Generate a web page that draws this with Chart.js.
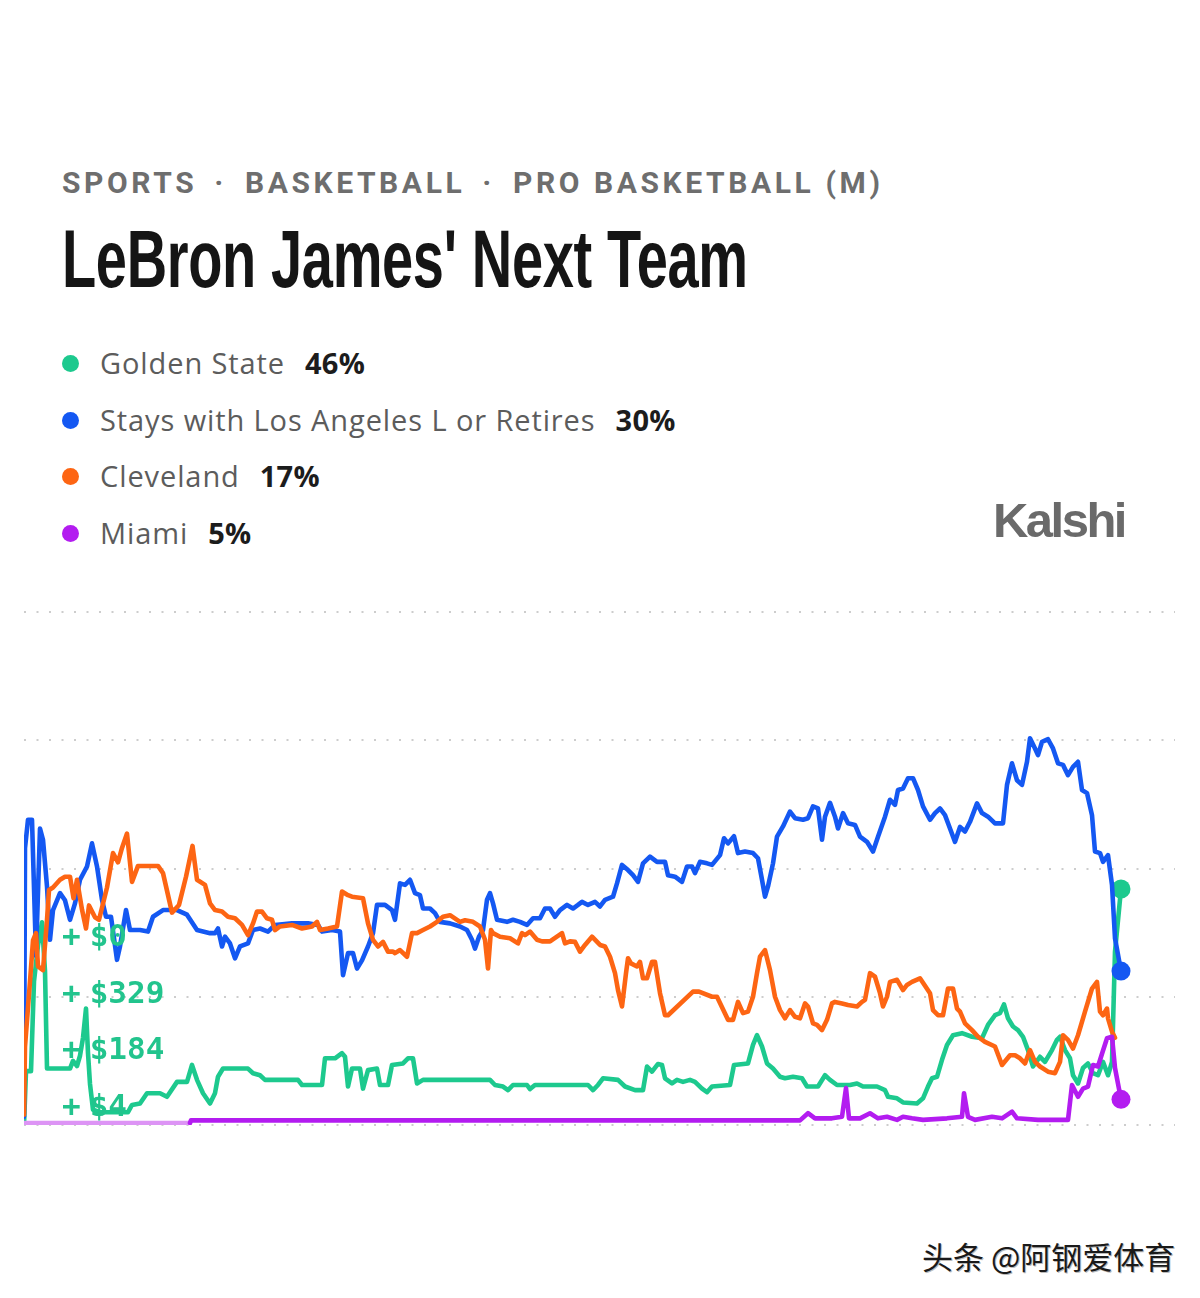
<!DOCTYPE html>
<html>
<head>
<meta charset="utf-8">
<script src="https://cdn.jsdelivr.net/npm/chart.js@4.4.1/dist/chart.umd.min.js"></script>
<style>
  body { margin: 0; background: #fff; width: 1200px; height: 1298px; position: relative; overflow: hidden; }
  .crumbs { position: absolute; left: 62px; top: 168px; font: 700 30px/1 "Roboto", sans-serif; letter-spacing: 3.6px; color: #6e6e6e; white-space: nowrap; }
  .crumbs .sep { margin: 0 18px 0 17px; }
  .title { position: absolute; left: 62px; top: 218px; font: 700 82px/1 "Liberation Sans Narrow", "Liberation Sans", sans-serif; color: #151515; white-space: nowrap; transform-origin: 0 0; letter-spacing: -0.5px; }
  .legend-row { position: absolute; left: 62px; height: 29px; display: flex; align-items: flex-start; white-space: nowrap; }
  .legend-row .dot { width: 17px; height: 17px; border-radius: 50%; margin-top: 7px; margin-right: 21px; }
  .legend-row .name { font: 400 29px/29px "Open Sans", sans-serif; letter-spacing: 0.9px; color: #5c5c5c; }
  .legend-row .pct { font: 700 29px/29px "Open Sans", sans-serif; letter-spacing: 0.3px; color: #1c1c1c; margin-left: 20px; }
  .brand { position: absolute; right: 75px; top: 496px; font: 700 49px/1 "Liberation Sans", sans-serif; letter-spacing: -2.5px; color: #6a6a6a; }
  .trade { position: absolute; left: 62px; font: 700 31px/1 "DejaVu Sans Mono", monospace; color: #22c48d; white-space: pre; }
  .trade .amt { margin-left: 9px; }
  .mark { position: absolute; left: 922px; top: 1240px; font: 400 31px/1 "Noto Sans CJK SC", sans-serif; color: #1a1a1a; text-shadow: 1px 1px 0 #bbb; white-space: nowrap; }
  #wrap { position: absolute; left: 0; top: 590px; width: 1200px; height: 560px; }
</style>
</head>
<body>
<div class="crumbs" id="crumbs"></div>
<div class="title" id="title"></div>
<div id="legend"></div>
<div class="brand">Kalshi</div>
<div id="wrap"><canvas id="chart"></canvas></div>
<div id="trades"></div>
<div class="mark">头条 @阿钢爱体育</div>

<script>
// Textes
const crumbs = ['SPORTS', 'BASKETBALL', 'PRO BASKETBALL (M)'];
const title = "LeBron James' Next Team";
const teams = ['Golden State', 'Stays with Los Angeles L or Retires', 'Cleveland', 'Miami'];
const odds = [46, 30, 17, 5];
const tradeAmounts = ['$0', '$329', '$184', '$4'];

// Séries : jour (depuis l'ouverture du marché) et probabilité (%)
const goldenDay = [0, 2, 7, 10, 14, 18, 21, 23, 31, 46, 49, 53, 56, 59, 62, 64, 66, 69, 76, 104, 108, 116, 123, 136, 143, 153, 163, 168, 173, 179, 186, 191, 194, 199, 224, 229, 236, 241, 274, 278, 298, 301, 311, 318, 321, 324, 328, 336, 339, 344, 353, 356, 364, 368, 379, 384, 389, 393, 399, 466, 471, 479, 484, 489, 503, 506, 511, 564, 569, 574, 579, 594, 601, 611, 619, 623, 628, 634, 638, 641, 648, 653, 659, 666, 671, 678, 683, 688, 706, 710, 724, 729, 733, 738, 743, 749, 756, 761, 769, 778, 783, 794, 801, 806, 813, 826, 833, 839, 853, 861, 864, 873, 879, 893, 899, 904, 908, 913, 918, 923, 929, 938, 948, 958, 964, 971, 976, 980, 984, 989, 994, 999, 1004, 1009, 1016, 1021, 1028, 1033, 1036, 1041, 1046, 1049, 1054, 1059, 1064, 1069, 1074, 1079, 1084, 1088, 1091, 1097];
const goldenPct = [0, 10.5, 10.5, 28, 35, 39.5, 30, 11, 11, 11, 12.5, 11.5, 13.5, 17, 22.7, 14, 8, 3, 2.5, 2.5, 3.9, 4.2, 6.2, 6.2, 5.5, 8.4, 8.4, 11.7, 8.8, 6.2, 4.2, 6.2, 9.4, 11, 11, 10.1, 9.7, 8.8, 8.8, 7.8, 7.8, 13, 13, 14, 13.3, 7.5, 11, 11, 7.1, 10.7, 11, 7.8, 7.8, 11.7, 12, 13, 13, 8.1, 8.8, 8.8, 7.8, 7.5, 6.8, 7.8, 7.8, 7, 7.8, 7.8, 6.8, 7.8, 9.1, 8.8, 7.5, 6.8, 6.8, 11.4, 10.4, 11.9, 11.7, 9.1, 8.1, 8.8, 8.4, 8.8, 8.4, 7.1, 6.4, 7.5, 7.8, 11.7, 12, 15.6, 17.5, 15.3, 12, 11, 9.4, 9.1, 9.4, 9.1, 7.5, 7.5, 9.7, 8.8, 7.8, 7.8, 8.1, 7.5, 7.5, 6.8, 5.5, 5.2, 4.4, 4.2, 5.2, 7.5, 9.1, 9.4, 12.7, 15.6, 17.5, 17.9, 17.2, 16.9, 19.5, 21.4, 21.8, 23.5, 20.8, 19.2, 18.5, 17.2, 14.6, 11.4, 13.3, 12.3, 14.6, 16.6, 17.2, 14.6, 13, 9.7, 8.1, 11.1, 12, 10.1, 9.7, 12.3, 9.7, 12.3, 33.8, 46];

const lakersDay = [0, 1, 4, 8, 12, 16, 19, 23, 26, 29, 36, 41, 46, 51, 56, 63, 68, 73, 78, 82, 87, 93, 96, 102, 106, 116, 124, 129, 139, 153, 163, 173, 186, 191, 194, 198, 201, 206, 211, 216, 224, 229, 236, 244, 251, 268, 284, 294, 298, 308, 316, 319, 324, 329, 333, 338, 344, 349, 353, 361, 368, 371, 376, 381, 386, 391, 396, 399, 406, 411, 416, 426, 436, 443, 448, 451, 455, 459, 463, 466, 469, 473, 483, 489, 496, 503, 509, 516, 521, 526, 531, 536, 543, 549, 554, 558, 564, 571, 576, 581, 589, 593, 598, 604, 609, 614, 619, 626, 633, 641, 644, 651, 658, 663, 668, 671, 676, 683, 688, 696, 700, 704, 710, 714, 721, 729, 734, 738, 741, 744, 749, 753, 759, 766, 771, 779, 784, 789, 794, 798, 801, 806, 811, 814, 819, 824, 831, 836, 843, 849, 854, 861, 866, 871, 874, 879, 884, 889, 894, 899, 906, 911, 916, 921, 926, 931, 936, 941, 946, 953, 958, 964, 971, 979, 983, 988, 993, 998, 1003, 1006, 1011, 1014, 1018, 1024, 1029, 1034, 1039, 1044, 1049, 1054, 1058, 1063, 1068, 1071, 1076, 1079, 1084, 1088, 1091, 1097];
const lakersPct = [1.6, 54, 59.5, 59.5, 33, 57.8, 55.6, 46.5, 36.1, 41.9, 45.2, 43.8, 40, 43.2, 47.8, 50.4, 54.9, 50.4, 43.9, 40.6, 40.6, 32.2, 34.8, 41.9, 38, 38, 37.7, 40.6, 41.9, 41.9, 41, 38, 37.4, 37.4, 38.3, 34.8, 36.7, 35.4, 32.5, 34.8, 35.4, 38, 38.3, 37.7, 39, 39.3, 39.3, 39, 37.7, 38, 37.7, 29.2, 33.5, 33.5, 30.5, 32.1, 34.8, 37.4, 42.9, 42.9, 41.9, 40, 47.1, 46.8, 47.8, 45.2, 44.8, 42.2, 42.2, 41.3, 39.6, 39.3, 38.7, 38, 36.1, 34.4, 36.7, 38, 43.9, 45.2, 43.2, 40, 39.6, 40, 39.6, 39, 40.3, 40.3, 42.2, 42.2, 40.6, 41.9, 42.9, 42.2, 42.9, 43.5, 42.9, 43.5, 42.6, 43.9, 44.5, 47.1, 50.7, 49.7, 48.7, 47.4, 51, 52.3, 51.3, 51.3, 48.7, 48.4, 47.4, 50.4, 50.4, 49.1, 51.3, 51, 50.7, 52.6, 55.9, 54.9, 56.3, 53, 53.3, 53, 52, 47.8, 44.5, 46.5, 51, 56.2, 58.2, 61.1, 59.8, 59.5, 59.8, 62.1, 61.7, 55.6, 60.1, 62.8, 60.1, 57.8, 60.8, 58.8, 58.5, 56.2, 55.2, 53.3, 56.2, 60.1, 63.4, 62.4, 65.3, 65.6, 67.6, 67.6, 65.3, 62.1, 59.5, 60.8, 61.7, 60.4, 57.8, 55.2, 58.1, 57.2, 59.1, 62.7, 60.8, 60.1, 58.8, 58.8, 66.3, 70.5, 67.2, 66.3, 70.8, 75.4, 73.4, 72.1, 74.7, 75.2, 73.4, 70.5, 70.2, 68.2, 69.8, 70.8, 65.3, 64.7, 60.4, 53.3, 53, 51.3, 52.6, 46.8, 36.4, 30];

const cavsDay = [0, 1, 6, 9, 12, 14, 19, 23, 25, 29, 36, 41, 46, 49.5, 53, 58, 62, 65, 71, 75, 83, 89, 94, 98, 103, 108, 114, 125, 134, 139, 148, 155, 162, 168.5, 173, 181, 186, 191, 198, 204, 211, 218, 224, 229, 233, 238, 243, 248, 251, 256, 268, 278, 288, 293, 296, 304, 313, 318, 324, 328, 339, 344, 349, 354, 359, 364, 369, 371, 376, 383, 388, 393, 399, 406, 413, 419, 426, 436, 441, 449, 456, 461, 464, 467, 469, 476, 486, 494, 498, 501, 506, 513, 518, 526, 538, 541, 546, 551, 556, 561, 568, 576, 581, 586, 591, 594, 598, 602, 604, 607, 613, 616, 619, 623, 628, 631, 636, 641, 644, 669, 675, 688, 693, 704, 709, 714, 719, 724, 729, 733, 736, 741, 746, 751, 756, 761, 766, 771, 776, 781, 784, 789, 793, 798, 803, 808, 811, 818, 824, 833, 838, 841, 846, 851, 856, 859, 863, 866, 873, 879, 883, 888, 896, 906, 909, 914, 919, 924, 929, 933, 936, 941, 948, 954, 961, 971, 978, 986, 991, 996, 1001, 1006, 1011, 1016, 1024, 1031, 1036, 1039, 1044, 1049, 1054, 1061, 1068, 1073, 1076, 1079, 1083, 1084, 1088, 1091, 1097];
const cavsPct = [2, 15.3, 28, 36, 37.4, 30.9, 30.2, 40, 45.8, 46.3, 47.8, 48.4, 48.4, 44.2, 47.8, 42, 38.3, 42.8, 40.5, 40, 46.3, 53, 51.2, 54, 56.8, 47.4, 50.5, 50.5, 50.5, 49.1, 41.4, 42.9, 48.4, 54.4, 47.8, 46.8, 43.2, 41.9, 41.6, 40.6, 40.3, 39, 37, 39.3, 41.6, 41.6, 40.3, 40, 38, 38.7, 39, 38.3, 38.7, 39.6, 38, 38.3, 38.7, 45.5, 44.8, 44.5, 44.2, 39.3, 36.1, 34.8, 35.7, 33.8, 33.8, 33.5, 34.1, 32.8, 37.4, 37.4, 38, 38.7, 39.6, 40.6, 40.9, 39.6, 39.9, 39.6, 38.7, 36.1, 30.5, 38, 37.4, 36.7, 36.4, 35.4, 37.4, 37, 37.7, 36.1, 35.8, 35.8, 37.4, 35.4, 35.8, 35.7, 33.8, 35.1, 36.7, 35.1, 34.8, 32.8, 29.6, 26.3, 23.1, 29.6, 32.5, 31.5, 30.9, 31.8, 28.6, 28.6, 31.8, 31.8, 25.7, 21.4, 21.4, 26, 26, 25, 25, 20.5, 20.5, 24, 21.8, 22.1, 25, 29.6, 32.8, 34.1, 30.2, 25, 22.4, 20.8, 22.4, 21.1, 20.8, 23.7, 23.1, 19.8, 19.5, 18.5, 20.5, 23.7, 24, 23.7, 23.4, 23.1, 24, 24.4, 29.6, 28.9, 25.7, 23.1, 25, 27.9, 28.3, 26.3, 27.3, 27.9, 28.6, 25.7, 22.4, 21.4, 21.4, 26.6, 26.6, 22.7, 22.1, 19.8, 18.5, 17.2, 16.2, 15.3, 11.7, 13.6, 13.6, 13, 12, 14.6, 12.3, 11.4, 10.4, 10.1, 12.3, 17.5, 16.6, 14.9, 17.5, 22.1, 26.6, 27.9, 22.1, 21.4, 22.7, 20.8, 18.2, 17];

const heatDay = [0, 166, 167, 776, 784, 791, 808, 818, 822, 825, 836, 846, 854, 863, 873, 879, 888, 899, 923, 938, 940, 944, 951, 968, 978, 988, 993, 1014, 1044, 1048, 1054, 1059, 1064, 1069, 1074, 1078, 1083, 1088, 1091, 1097];
const heatPct = [0.4, 0.4, 0.9, 0.9, 2.3, 1.3, 1.3, 1.6, 7.2, 1.3, 1.3, 2.3, 1.3, 1.6, 1, 1.6, 1.3, 1, 1.3, 1.6, 6.2, 1.6, 1, 1.6, 1.3, 2.6, 1.3, 1, 1, 7.8, 5.5, 7.1, 7.5, 11.7, 11.4, 13.9, 16.9, 17.2, 11.1, 5];

const lastDay = 1151;
const colors = ['#1dc98e', '#1458f2', '#fd6513', '#b31cf0'];
const heatFaded = '#dd94f5';

// En-tête et légende
document.getElementById('crumbs').innerHTML = crumbs.join('<span class="sep">·</span>');
document.getElementById('title').textContent = title;
const legend = document.getElementById('legend');
const rowCenters = [363, 420, 476, 533];
teams.forEach((t, i) => {
  const row = document.createElement('div');
  row.className = 'legend-row';
  row.style.top = (rowCenters[i] - 15.5) + 'px';
  row.innerHTML = `<span class="dot" style="background:${colors[i]}"></span><span class="name">${t}</span><span class="pct">${odds[i]}%</span>`;
  legend.appendChild(row);
});
const trades = document.getElementById('trades');
const tradeCenters = [935, 992, 1048, 1105];
tradeAmounts.forEach((t, i) => {
  const d = document.createElement('div');
  d.className = 'trade';
  d.style.top = (tradeCenters[i] - 15) + 'px';
  d.innerHTML = `+<span class="amt">${t}</span>`;
  trades.appendChild(d);
});

function fitTitle() {
  const el = document.getElementById('title');
  el.style.transform = 'none';
  el.style.transform = `scaleX(${686 / el.offsetWidth})`;
}
fitTitle();
document.fonts.ready.then(fitTitle);

// Graphique
const toPoints = (days, pct) => days.map((d, i) => ({ x: d, y: pct[i] }));
const lastOnly = ctx => ctx.dataIndex === ctx.dataset.data.length - 1 ? 9.5 : 0;

function serie(label, days, pct, color, order) {
  return {
    label: label,
    data: toPoints(days, pct),
    borderColor: color,
    backgroundColor: color,
    pointBackgroundColor: color,
    pointBorderWidth: 0,
    pointRadius: lastOnly,
    pointHoverRadius: lastOnly,
    borderWidth: 4.6,
    borderJoinStyle: 'round',
    borderCapStyle: 'round',
    tension: 0,
    fill: false,
    order: order
  };
}

const heat = serie(teams[3], heatDay, heatPct, colors[3], 0);
heat.segment = { borderColor: ctx => ctx.p1.parsed.x <= 166 ? heatFaded : colors[3] };

new Chart(document.getElementById('chart'), {
  type: 'line',
  data: {
    datasets: [
      serie(teams[0], goldenDay, goldenPct, colors[0], 3),
      serie(teams[1], lakersDay, lakersPct, colors[1], 2),
      serie(teams[2], cavsDay, cavsPct, colors[2], 1),
      heat
    ]
  },
  options: {
    responsive: true,
    maintainAspectRatio: false,
    animation: false,
    layout: { padding: { left: 24, right: 25, top: 22, bottom: 25 } },
    plugins: { legend: { display: false }, tooltip: { enabled: false } },
    events: [],
    scales: {
      x: { type: 'linear', min: 0, max: lastDay, display: false },
      y: {
        min: 0,
        max: 100,
        ticks: { display: false, stepSize: 25 },
        grid: { color: '#cdcdcd', lineWidth: 2, drawTicks: false },
        border: { display: false, dash: [2, 10.5] }
      }
    }
  }
});
</script>
</body>
</html>
